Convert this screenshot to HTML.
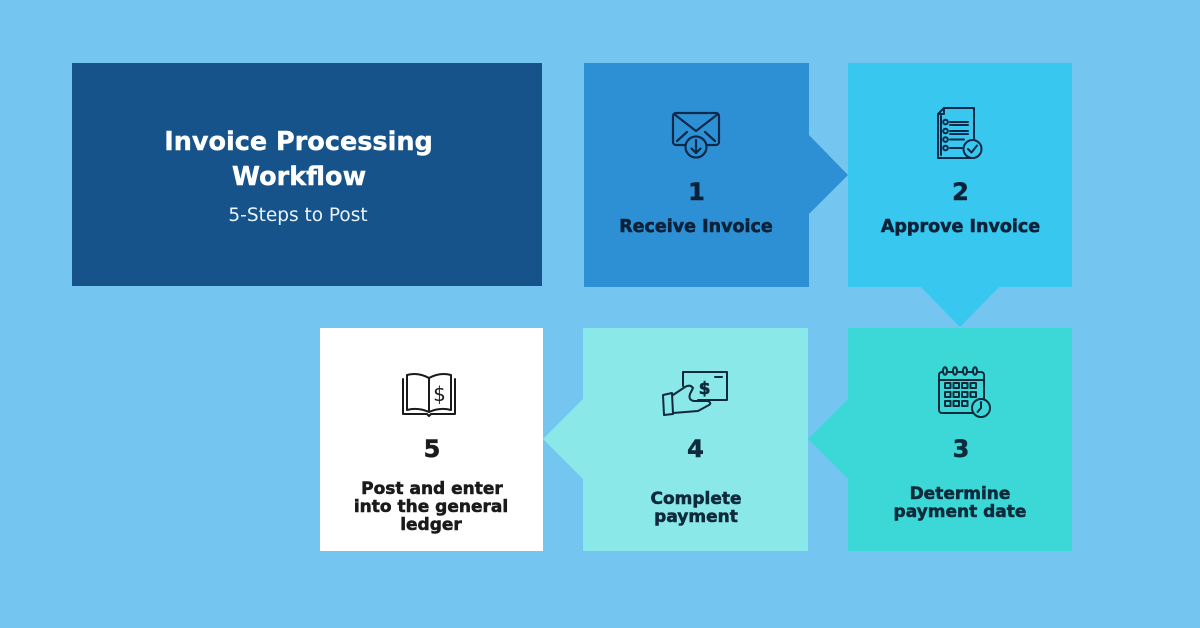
<!DOCTYPE html>
<html><head><meta charset="utf-8">
<style>
html,body{margin:0;padding:0;background:#74C6F0;}
svg{display:block;}
.lb{stroke-width:0.55px;}
</style></head>
<body>
<svg width="1200" height="628" viewBox="0 0 1200 628" xmlns="http://www.w3.org/2000/svg">
<rect x="0" y="0" width="1200" height="628" fill="#74C6F0"/>

<!-- Title box -->
<rect x="72" y="63" width="470" height="223" fill="#15538A"/>
<text x="298.5" y="150" text-anchor="middle" font-family="DejaVu Sans, sans-serif" font-weight="bold" font-size="25.5" fill="#FFFFFF" stroke="#FFFFFF" stroke-width="0.4">Invoice Processing</text>
<text x="299" y="185" text-anchor="middle" font-family="DejaVu Sans, sans-serif" font-weight="bold" font-size="25.5" fill="#FFFFFF" stroke="#FFFFFF" stroke-width="0.4">Workflow</text>
<text x="298" y="221" text-anchor="middle" font-family="DejaVu Sans, sans-serif" font-size="18.5" fill="#EAF4FB">5-Steps to Post</text>

<!-- Box 1 -->
<rect x="584" y="63" width="225" height="224" fill="#2E90D4"/>
<polygon points="808,134 848,175 808,215" fill="#2E90D4"/>
<!-- Box 2 -->
<rect x="848" y="63" width="224" height="224" fill="#37C7EF"/>
<polygon points="920,286 1000,286 960,327" fill="#37C7EF"/>
<!-- Box 3 -->
<rect x="848" y="328" width="224" height="223" fill="#3CD8D8"/>
<polygon points="849,398 849,480 808,439" fill="#3CD8D8"/>
<!-- Box 4 -->
<rect x="583" y="328" width="225" height="223" fill="#8AE8E8"/>
<polygon points="584,398 584,480 543,439" fill="#8AE8E8"/>
<!-- Box 5 -->
<rect x="320" y="328" width="223" height="223" fill="#FFFFFF"/>

<!-- Icon 1: envelope -->
<g fill="none" stroke="#0D2A4A" stroke-width="2.2" stroke-linecap="round" stroke-linejoin="round">
  <rect x="673" y="113" width="46" height="32" rx="3"/>
  <polyline points="674,114 696,131 718,114"/>
  <line x1="677" y1="141" x2="687" y2="132"/>
  <line x1="715" y1="141" x2="705" y2="132"/>
  <circle cx="696" cy="147" r="10.5" fill="#2E90D4"/>
  <line x1="696" y1="140" x2="696" y2="153"/>
  <polyline points="691.5,148.5 696,153 700.5,148.5"/>
</g>
<text class="lb" x="696.5" y="200" text-anchor="middle" font-family="DejaVu Sans, sans-serif" font-weight="bold" font-size="24" fill="#0B2239" stroke="#0B2239">1</text>
<text class="lb" x="696" y="232" text-anchor="middle" font-family="DejaVu Sans, sans-serif" font-weight="bold" font-size="17.5" fill="#0B2239" stroke="#0B2239">Receive Invoice</text>

<!-- Icon 2: document with check -->
<g fill="none" stroke="#0D2A4A" stroke-width="2" stroke-linecap="round" stroke-linejoin="round">
  <path d="M944,108 L974,108 L974,158 L938,158 L938,114 Z"/>
  <polyline points="938,114 944,114 944,108"/>
  <line x1="941" y1="116" x2="941" y2="155"/>
  <circle cx="945.5" cy="122" r="2.3"/>
  <circle cx="945.5" cy="131" r="2.3"/>
  <circle cx="945.5" cy="139.5" r="2.3"/>
  <circle cx="945.5" cy="148" r="2.3"/>
  <line x1="950" y1="122" x2="968" y2="122"/>
  <line x1="950" y1="125" x2="968" y2="125"/>
  <line x1="950" y1="131" x2="968" y2="131"/>
  <line x1="950" y1="134" x2="968" y2="134"/>
  <line x1="950" y1="139.5" x2="964" y2="139.5"/>
  <line x1="950" y1="148" x2="962" y2="148"/>
  <circle cx="972.5" cy="149" r="9" fill="#37C7EF"/>
  <polyline points="968,149 971.5,152.5 977,145.5"/>
</g>
<text class="lb" x="960.5" y="200" text-anchor="middle" font-family="DejaVu Sans, sans-serif" font-weight="bold" font-size="24" fill="#0B2239" stroke="#0B2239">2</text>
<text class="lb" x="960.5" y="232" text-anchor="middle" font-family="DejaVu Sans, sans-serif" font-weight="bold" font-size="17.5" fill="#0B2239" stroke="#0B2239">Approve Invoice</text>

<!-- Icon 3: calendar with clock -->
<g fill="none" stroke="#0E2A3B" stroke-width="2" stroke-linecap="round" stroke-linejoin="round">
  <rect x="939" y="372" width="45" height="41" rx="3"/>
  <line x1="939" y1="380" x2="984" y2="380"/>
  <ellipse cx="945" cy="371" rx="2" ry="3.8" fill="#3CD8D8"/>
  <ellipse cx="955" cy="371" rx="2" ry="3.8" fill="#3CD8D8"/>
  <ellipse cx="965" cy="371" rx="2" ry="3.8" fill="#3CD8D8"/>
  <ellipse cx="975" cy="371" rx="2" ry="3.8" fill="#3CD8D8"/>
  <rect x="945" y="383" width="5.5" height="5"/>
  <rect x="953.5" y="383" width="5.5" height="5"/>
  <rect x="962" y="383" width="5.5" height="5"/>
  <rect x="970.5" y="383" width="5.5" height="5"/>
  <rect x="945" y="392" width="5.5" height="5"/>
  <rect x="953.5" y="392" width="5.5" height="5"/>
  <rect x="962" y="392" width="5.5" height="5"/>
  <rect x="970.5" y="392" width="5.5" height="5"/>
  <rect x="945" y="401" width="5.5" height="5"/>
  <rect x="953.5" y="401" width="5.5" height="5"/>
  <rect x="962" y="401" width="5.5" height="5"/>
  <circle cx="981" cy="408" r="9" fill="#3CD8D8"/>
  <polyline points="981,402 981,408 977.5,412"/>
</g>
<text class="lb" x="961" y="457" text-anchor="middle" font-family="DejaVu Sans, sans-serif" font-weight="bold" font-size="24" fill="#0E2A3B" stroke="#0E2A3B">3</text>
<text class="lb" x="960" y="499" text-anchor="middle" font-family="DejaVu Sans, sans-serif" font-weight="bold" font-size="17" fill="#0E2A3B" stroke="#0E2A3B">Determine</text>
<text class="lb" x="960" y="517" text-anchor="middle" font-family="DejaVu Sans, sans-serif" font-weight="bold" font-size="17" fill="#0E2A3B" stroke="#0E2A3B">payment date</text>

<!-- Icon 4: hand with cash -->
<g fill="none" stroke="#0E2A3B" stroke-width="2" stroke-linecap="round" stroke-linejoin="round">
  <polyline points="683,386 683,372 727,372 727,400 698,400"/>
  <line x1="715" y1="377" x2="722" y2="377"/>
  <path d="M673,395 L685,387 Q690,384 693,388 L690,394 Q688,400 694,401 L708,401 Q712,403 709,405 L698,411 L673,413"/>
  <path d="M663,395 L672,393 L673,414 L664,415 Z"/>
</g>
<text class="lb" x="704.5" y="394" text-anchor="middle" font-family="DejaVu Sans, sans-serif" font-weight="bold" font-size="17" fill="#0E2A3B" stroke="#0E2A3B">$</text>
<text class="lb" x="695.5" y="457" text-anchor="middle" font-family="DejaVu Sans, sans-serif" font-weight="bold" font-size="24" fill="#0E2A3B" stroke="#0E2A3B">4</text>
<text class="lb" x="696" y="504" text-anchor="middle" font-family="DejaVu Sans, sans-serif" font-weight="bold" font-size="17" fill="#0E2A3B" stroke="#0E2A3B">Complete</text>
<text class="lb" x="696" y="522" text-anchor="middle" font-family="DejaVu Sans, sans-serif" font-weight="bold" font-size="17" fill="#0E2A3B" stroke="#0E2A3B">payment</text>

<!-- Icon 5: book -->
<g fill="none" stroke="#1A1A1A" stroke-width="2" stroke-linecap="round" stroke-linejoin="round">
  <path d="M429,378 Q418,372 407,375 L407,410 Q418,407 429,412 Z"/>
  <path d="M429,378 Q440,372 451,375 L451,410 Q440,407 429,412 Z"/>
  <polyline points="403,379 403,414 427,414 429,416 431,414 455,414 455,379"/>
</g>
<text x="439.5" y="401" text-anchor="middle" font-family="DejaVu Sans, sans-serif" font-size="20" fill="#1A1A1A">$</text>
<text class="lb" x="432" y="457" text-anchor="middle" font-family="DejaVu Sans, sans-serif" font-weight="bold" font-size="24" fill="#1A1A1A" stroke="#1A1A1A">5</text>
<text class="lb" x="432" y="494" text-anchor="middle" font-family="DejaVu Sans, sans-serif" font-weight="bold" font-size="17" fill="#1A1A1A" stroke="#1A1A1A">Post and enter</text>
<text class="lb" x="431" y="512" text-anchor="middle" font-family="DejaVu Sans, sans-serif" font-weight="bold" font-size="17" fill="#1A1A1A" stroke="#1A1A1A">into the general</text>
<text class="lb" x="431" y="530" text-anchor="middle" font-family="DejaVu Sans, sans-serif" font-weight="bold" font-size="17" fill="#1A1A1A" stroke="#1A1A1A">ledger</text>
</svg>
</body></html>
